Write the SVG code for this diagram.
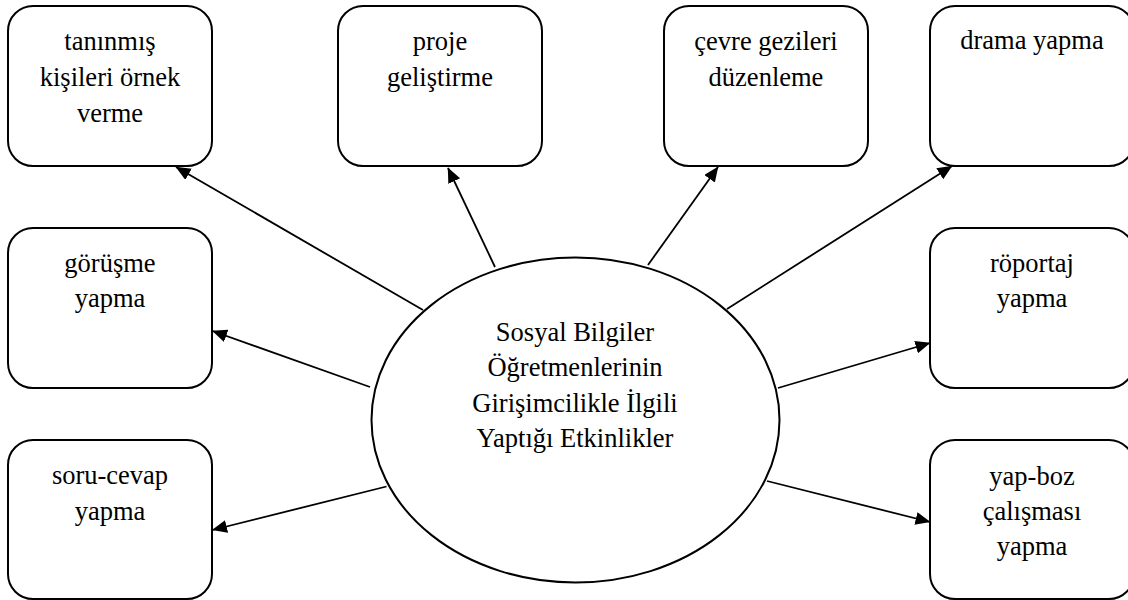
<svg xmlns="http://www.w3.org/2000/svg" width="1128" height="600" viewBox="0 0 1128 600">
<style>
.box{fill:#fff;stroke:#000;stroke-width:2}
.t{font-size:26.5px;fill:#000;text-anchor:middle}
.c{stroke:#000;stroke-width:1.8;fill:none;marker-end:url(#ah)}
</style>
<defs>
<marker id="ah" markerUnits="userSpaceOnUse" markerWidth="16" markerHeight="14" refX="14.5" refY="6.5" orient="auto">
<path d="M0,0 L15,6.5 L0,13 z" fill="#000"/>
</marker>
</defs>
<rect width="1128" height="600" fill="#fff"/>
<g font-family="Liberation Serif, Tinos, Times New Roman, DejaVu Serif, serif">
<g id="n-tanınmış">
<rect class="box" x="8" y="6" width="204" height="160" rx="25"/>
<text class="t" x="110" y="50">tanınmış</text>
<text class="t" x="110" y="86">kişileri örnek</text>
<text class="t" x="110" y="122">verme</text>
</g>
<g id="n-proje">
<rect class="box" x="338" y="6" width="204" height="160" rx="25"/>
<text class="t" x="440" y="50">proje</text>
<text class="t" x="440" y="86">geliştirme</text>
</g>
<g id="n-cevre">
<rect class="box" x="664" y="6" width="204" height="160" rx="25"/>
<text class="t" x="766" y="50">çevre gezileri</text>
<text class="t" x="766" y="86">düzenleme</text>
</g>
<g id="n-drama">
<rect class="box" x="930" y="6" width="204" height="160" rx="25"/>
<text class="t" x="1032" y="49">drama yapma</text>
</g>
<g id="n-gorusme">
<rect class="box" x="8" y="228" width="204" height="160" rx="25"/>
<text class="t" x="110" y="272">görüşme</text>
<text class="t" x="110" y="307">yapma</text>
</g>
<g id="n-roportaj">
<rect class="box" x="930" y="228" width="204" height="160" rx="25"/>
<text class="t" x="1032" y="272">röportaj</text>
<text class="t" x="1032" y="307">yapma</text>
</g>
<g id="n-soru">
<rect class="box" x="8" y="440" width="204" height="159" rx="25"/>
<text class="t" x="110" y="484">soru-cevap</text>
<text class="t" x="110" y="519.5">yapma</text>
</g>
<g id="n-yapboz">
<rect class="box" x="930" y="440" width="204" height="159" rx="25"/>
<text class="t" x="1032" y="485">yap-boz</text>
<text class="t" x="1032" y="520">çalışması</text>
<text class="t" x="1032" y="555">yapma</text>
</g>
<g id="n-center">
<ellipse class="box" cx="575.5" cy="420" rx="204" ry="162.5"/>
<text class="t" x="575" y="341">Sosyal Bilgiler</text>
<text class="t" x="575" y="376">Öğretmenlerinin</text>
<text class="t" x="575" y="411.5">Girişimcilikle İlgili</text>
<text class="t" x="575" y="446.5">Yaptığı Etkinlikler</text>
</g>
</g>
<g id="connectors">
<line class="c" x1="423" y1="310" x2="176" y2="167"/>
<line class="c" x1="495" y1="267" x2="448" y2="168"/>
<line class="c" x1="648" y1="265" x2="718" y2="167"/>
<line class="c" x1="727" y1="309" x2="952" y2="166"/>
<line class="c" x1="370" y1="387" x2="212.5" y2="331"/>
<line class="c" x1="778" y1="388" x2="930" y2="343"/>
<line class="c" x1="386.5" y1="486.5" x2="212.5" y2="530"/>
<line class="c" x1="767" y1="481" x2="930" y2="522"/>
</g>
</svg>
